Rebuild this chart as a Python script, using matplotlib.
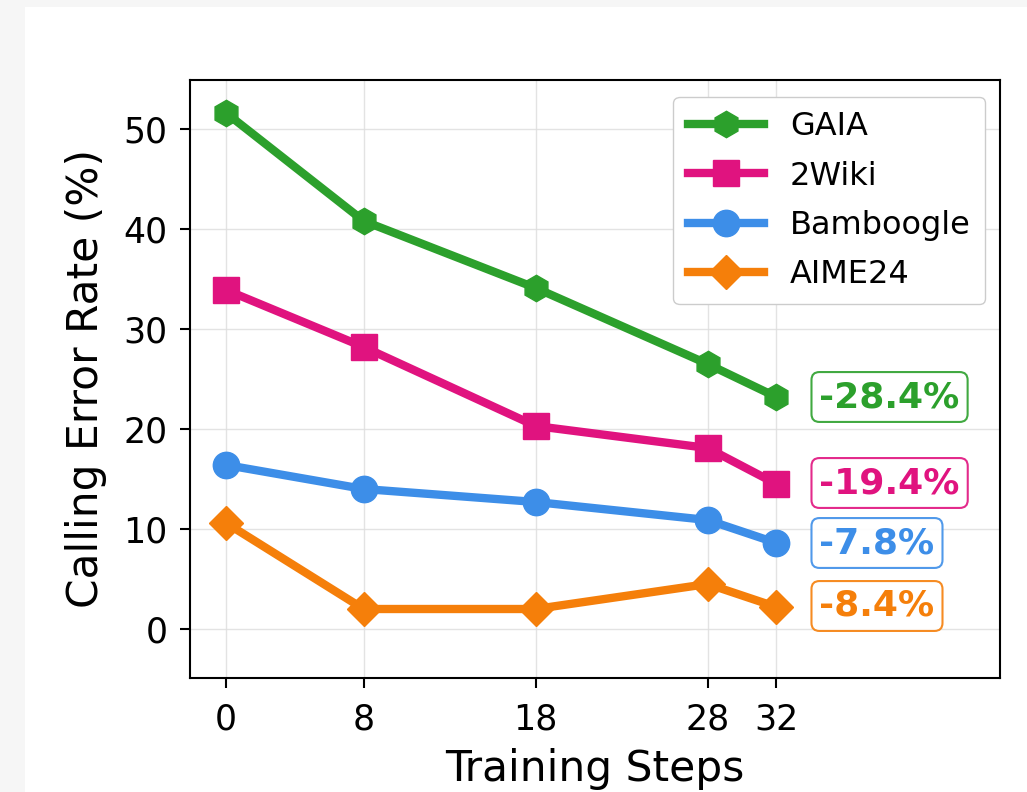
import matplotlib
matplotlib.use("Agg")
import matplotlib.pyplot as plt

steps = [0, 8, 18, 28, 32]
gaia = [51.6, 40.8, 34.1, 26.5, 23.2]
wiki2 = [33.9, 28.2, 20.3, 18.1, 14.5]
bamboogle = [16.4, 14.0, 12.7, 10.9, 8.6]
aime24 = [10.6, 2.0, 2.0, 4.5, 2.2]

names = ["GAIA", "2Wiki", "Bamboogle", "AIME24"]
series = [gaia, wiki2, bamboogle, aime24]
markers = ["h", "s", "o", "D"]
colors = ["#2ca02c", "#e0137f", "#3d8ee8", "#f57f0a"]
drops = ["-28.4%", "-19.4%", "-7.8%", "-8.4%"]
label_y = [23.2, 14.6, 8.6, 2.3]

fig = plt.figure(figsize=(10.27, 7.92), dpi=100)
fig.patch.set_facecolor("#f6f6f6")
# white card behind the chart
fig.add_artist(plt.Rectangle((25 / 1027, 0), 1, 1 - 7 / 792, transform=fig.transFigure,
                             facecolor="white", edgecolor="none", zorder=0))
ax = fig.add_axes([190 / 1027, 1 - 678 / 792, 810 / 1027, 598 / 792])

for name, vals, m, c in zip(names, series, markers, colors):
    ms = 17 if m == "D" else 19
    ax.plot(steps, vals, marker=m, color=c, lw=6, ms=ms, label=name, zorder=3)

for txt, y, c in zip(drops, label_y, colors):
    ax.text(34.5, y, txt, color=c, fontsize=26, fontweight="bold", ha="left", va="center",
            bbox=dict(boxstyle="round,pad=0.22", facecolor="white", edgecolor=c, lw=1.5, alpha=0.9),
            zorder=4)

ax.set_xlim(-2.1, 45)
ax.set_ylim(-4.9, 54.9)
ax.set_xticks(steps)
ax.set_yticks([0, 10, 20, 30, 40, 50])
ax.tick_params(labelsize=25, length=7, width=1.5)
ax.tick_params(axis="x", pad=11)
ax.tick_params(axis="y", pad=9)
ax.grid(True, color="#dddddd", lw=1, alpha=0.8)
ax.set_axisbelow(True)
for s in ax.spines.values():
    s.set_linewidth(1.5)

ax.set_xlabel("Training Steps", fontsize=30.5, labelpad=8)
ax.set_ylabel("Calling Error Rate (%)", fontsize=30.5, labelpad=12)

ax.legend(loc="upper right", fontsize=23, handlelength=2.4, borderpad=0.45,
          labelspacing=0.57, handletextpad=0.8, framealpha=1, edgecolor="#cccccc",
          borderaxespad=0, bbox_to_anchor=(0.9815, 0.9716))

fig.savefig("out.png", dpi=100)
